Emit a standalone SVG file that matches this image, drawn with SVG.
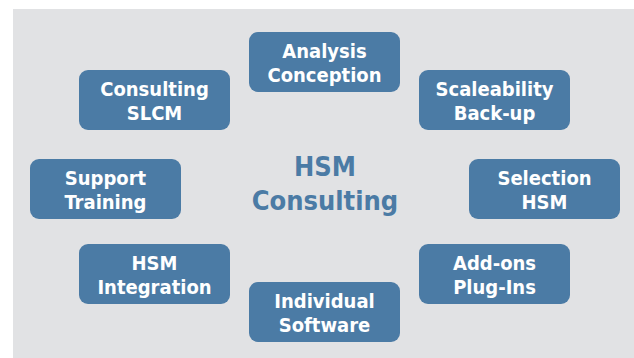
<svg xmlns="http://www.w3.org/2000/svg" width="634" height="358" viewBox="0 0 634 358">
<style>
.box{fill:#4b7ba5}
.t{font-family:"DejaVu Sans Condensed","DejaVu Sans",sans-serif;font-stretch:condensed;font-weight:bold;font-size:20px;fill:#ffffff;text-anchor:middle}
.c{font-family:"DejaVu Sans Condensed","DejaVu Sans",sans-serif;font-stretch:condensed;font-weight:bold;font-size:27px;fill:#4b7ba5;text-anchor:middle}
</style>
<rect x="0" y="0" width="634" height="358" fill="#ffffff"/>
<rect x="13" y="9" width="621" height="349" fill="#e1e2e4"/>
<g id="connectors"></g>
<g id="center">
<text class="c" x="325" y="176">HSM</text>
<text class="c" x="325" y="210">Consulting</text>
</g>
<g id="analysis"><rect class="box" x="249" y="32" width="151" height="60" rx="9"/><text class="t" x="324.5" y="58">Analysis</text><text class="t" x="324.5" y="82">Conception</text></g>
<g id="consulting"><rect class="box" x="79" y="70" width="151" height="60" rx="9"/><text class="t" x="154.5" y="96">Consulting</text><text class="t" x="154.5" y="120">SLCM</text></g>
<g id="scaleability"><rect class="box" x="419" y="70" width="151" height="60" rx="9"/><text class="t" x="494.5" y="96">Scaleability</text><text class="t" x="494.5" y="120">Back-up</text></g>
<g id="support"><rect class="box" x="30" y="159" width="151" height="60" rx="9"/><text class="t" x="105.5" y="185">Support</text><text class="t" x="105.5" y="209">Training</text></g>
<g id="selection"><rect class="box" x="469" y="159" width="151" height="60" rx="9"/><text class="t" x="544.5" y="185">Selection</text><text class="t" x="544.5" y="209">HSM</text></g>
<g id="integration"><rect class="box" x="79" y="244" width="151" height="60" rx="9"/><text class="t" x="154.5" y="270">HSM</text><text class="t" x="154.5" y="294">Integration</text></g>
<g id="addons"><rect class="box" x="419" y="244" width="151" height="60" rx="9"/><text class="t" x="494.5" y="270">Add-ons</text><text class="t" x="494.5" y="294">Plug-Ins</text></g>
<g id="individual"><rect class="box" x="249" y="282" width="151" height="60" rx="9"/><text class="t" x="324.5" y="308">Individual</text><text class="t" x="324.5" y="332">Software</text></g>
</svg>
